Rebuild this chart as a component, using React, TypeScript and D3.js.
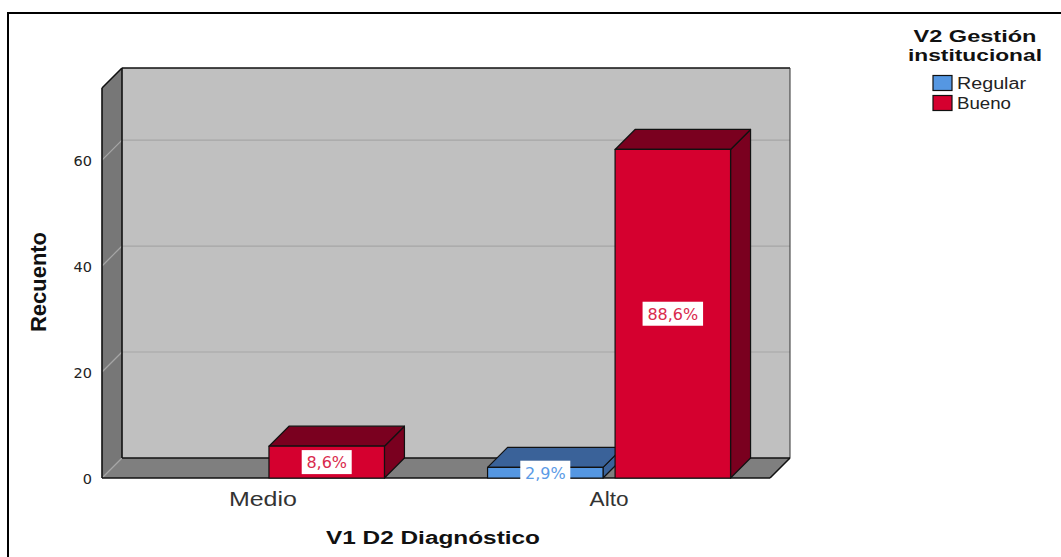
import React from "react";
import * as d3 from "d3";

const categories = ["Medio", "Alto"];
const series = ["Regular", "Bueno"];
const regularCounts = [0, 2];
const buenoCounts = [6, 62];
const yTicks = [0, 20, 40, 60];
const totalCases = 70;

const frontColors: Record<string, string> = { Regular: "#5597e2", Bueno: "#d5002f" };
const darkColors: Record<string, string> = { Regular: "#3a6299", Bueno: "#7a001f" };
const labelColors: Record<string, string> = { Regular: "#5b9be6", Bueno: "#d92a4d" };

const FONT = "'Liberation Sans', Arial, sans-serif";
const FONT2 = "'DejaVu Sans', Verdana, sans-serif";

export default function App() {
  const x0 = 102, x1 = 770;
  const floorY = 478;
  const depth = 20;
  const y = d3.scaleLinear().domain([0, 73.6]).range([floorY, 88]);
  const xCat = d3.scalePoint<string>().domain(categories).range([x0, x1]).padding(0.465);
  const xSer = d3.scaleBand<string>().domain(series).range([-121.5, 121.5]).paddingInner(0.0945);
  const yTop = y(73.6);
  const fmt = (v: number) => d3.format(".1f")((v / totalCases) * 100).replace(".", ",") + "%";

  const bars: { cat: string; ser: string; value: number }[] = [];
  categories.forEach((c, i) => {
    bars.push({ cat: c, ser: "Regular", value: regularCounts[i] });
    bars.push({ cat: c, ser: "Bueno", value: buenoCounts[i] });
  });

  return (
    <svg width={1061} height={557} style={{ position: "absolute", left: 0, top: 0, background: "#fff" }}>
      {/* frame */}
      <rect x={8} y={13} width={1100} height={600} fill="none" stroke="#000" strokeWidth={2} />

      {/* back wall */}
      <rect x={x0 + depth} y={yTop - depth} width={x1 - x0} height={floorY - yTop} fill="#c0c0c0" />
      {/* left wall */}
      <polygon
        points={`${x0},${yTop} ${x0 + depth},${yTop - depth} ${x0 + depth},${floorY - depth} ${x0},${floorY}`}
        fill="#777777"
      />
      {/* floor */}
      <polygon
        points={`${x0},${floorY} ${x1},${floorY} ${x1 + depth},${floorY - depth} ${x0 + depth},${floorY - depth}`}
        fill="#7f7f7f"
      />
      {/* gridlines */}
      {yTicks.map((t) => (
        <g key={t}>
          {t > 0 && (
            <line x1={x0 + depth} x2={x1 + depth} y1={y(t) - depth} y2={y(t) - depth} stroke="#a6a6a6" strokeWidth={1.2} />
          )}
          <line x1={x0} x2={x0 + depth} y1={y(t)} y2={y(t) - depth} stroke="#a6a6a6" strokeWidth={1.2} />
        </g>
      ))}
      {/* wall edges */}
      <g stroke="#111" strokeWidth={1.6} fill="none">
        <line x1={x0 + depth} x2={x0 + depth} y1={yTop - depth} y2={floorY - depth} />
        <line x1={x0 + depth} x2={x1 + depth} y1={yTop - depth} y2={yTop - depth} />
        <line x1={x1 + depth} x2={x1 + depth} y1={yTop - depth} y2={floorY - depth} strokeWidth={1} stroke="#333" />
        <line x1={x0 + depth} x2={x1 + depth} y1={floorY - depth} y2={floorY - depth} />
        <line x1={x0} x2={x0} y1={yTop} y2={floorY} />
        <line x1={x0} x2={x0 + depth} y1={yTop} y2={yTop - depth} />
        <line x1={x0} x2={x1} y1={floorY} y2={floorY} />
        <line x1={x1} x2={x1 + depth} y1={floorY} y2={floorY - depth} />
      </g>

      {/* bars */}
      {bars.filter((b) => b.value > 0).map((b) => {
        const bx = (xCat(b.cat) as number) + (xSer(b.ser) as number);
        const bw = xSer.bandwidth();
        const by = y(b.value);
        return (
          <g key={b.cat + b.ser} stroke="#111" strokeWidth={1.2} strokeLinejoin="round">
            <polygon
              points={`${bx + bw},${by} ${bx + bw + depth},${by - depth} ${bx + bw + depth},${floorY - depth} ${bx + bw},${floorY}`}
              fill={darkColors[b.ser]}
            />
            <polygon
              points={`${bx},${by} ${bx + depth},${by - depth} ${bx + bw + depth},${by - depth} ${bx + bw},${by}`}
              fill={darkColors[b.ser]}
            />
            <rect x={bx} y={by} width={bw} height={floorY - by} fill={frontColors[b.ser]} />
          </g>
        );
      })}

      {/* data labels */}
      {bars.filter((b) => b.value > 0).map((b) => {
        const cx = (xCat(b.cat) as number) + (xSer(b.ser) as number) + xSer.bandwidth() / 2;
        const cy = (y(b.value) + floorY) / 2;
        const txt = fmt(b.value);
        const w = txt.length * 10.5 + 8;
        return (
          <g key={"l" + b.cat + b.ser}>
            <rect x={cx - w / 2} y={cy - 12} width={w} height={24} fill="#fff" />
            <text x={cx} y={cy + 6} textAnchor="middle" fontFamily={FONT2} fontSize={16} fill={labelColors[b.ser]}>
              {txt}
            </text>
          </g>
        );
      })}

      {/* y ticks */}
      {yTicks.map((t) => (
        <text key={"t" + t} x={92} y={y(t) + 6} textAnchor="end" fontFamily={FONT2} fontSize={14.5} fill="#222">
          {t}
        </text>
      ))}

      {/* x labels */}
      {categories.map((c, i) => (
        <text
          key={c}
          x={xCat(c) as number}
          y={506}
          textAnchor="middle"
          fontFamily={FONT}
          fontSize={20}
          fill="#333"
          textLength={i === 0 ? 68 : 39}
          lengthAdjust="spacingAndGlyphs"
        >
          {c}
        </text>
      ))}

      {/* axis titles */}
      <text x={433} y={544} textAnchor="middle" fontFamily={FONT} fontWeight="bold" fontSize={18} fill="#111"
        textLength={214} lengthAdjust="spacingAndGlyphs">
        V1 D2 Diagnóstico
      </text>
      <text transform="translate(46,282) scale(1.2,1) rotate(-90)" textAnchor="middle" fontFamily={FONT} fontWeight="bold" fontSize={19}
        fill="#111" textLength={100} lengthAdjust="spacingAndGlyphs">
        Recuento
      </text>

      {/* legend */}
      <text x={975} y={41.5} textAnchor="middle" fontFamily={FONT} fontWeight="bold" fontSize={17} fill="#111"
        textLength={123} lengthAdjust="spacingAndGlyphs">
        V2 Gestión
      </text>
      <text x={975} y={60.5} textAnchor="middle" fontFamily={FONT} fontWeight="bold" fontSize={17} fill="#111"
        textLength={134} lengthAdjust="spacingAndGlyphs">
        institucional
      </text>
      {series.map((s, i) => (
        <g key={"lg" + s}>
          <rect x={933} y={75.5 + i * 20} width={19} height={15} fill={frontColors[s]} stroke="#111" strokeWidth={1.2} />
          <text x={957} y={89 + i * 20} fontFamily={FONT} fontSize={16} fill="#222"
            textLength={i === 0 ? 69 : 54} lengthAdjust="spacingAndGlyphs">
            {s}
          </text>
        </g>
      ))}
    </svg>
  );
}
